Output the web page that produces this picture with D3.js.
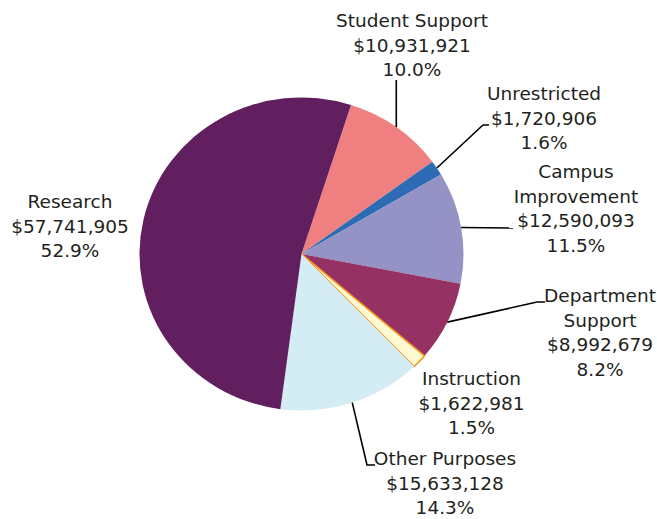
<!DOCTYPE html>
<html><head><meta charset="utf-8">
<script src="https://cdn.jsdelivr.net/npm/d3@7"></script>
<style>html,body{margin:0;padding:0;background:#fff;}svg{display:block;}</style>
</head><body>
<svg id="chart" width="657" height="519"></svg>
<script>
const categories = ["Student Support","Unrestricted","Campus Improvement","Department Support","Instruction","Other Purposes","Research"];
const amounts = [10931921,1720906,12590093,8992679,1622981,15633128,57741905];
const percentLabels = ["10.0%","1.6%","11.5%","8.2%","1.5%","14.3%","52.9%"];
const labelLines = [["Student Support"],["Unrestricted"],["Campus","Improvement"],["Department","Support"],["Instruction"],["Other Purposes"],["Research"]];
const colors = ["#f08080","#2d6cb5","#9593c6","#953163","#fdf9d0","#d4ecf3","#621f5f"];

const svg = d3.select("#chart");
const cx = 301.5, cy = 254, R = 162, yScale = 0.966;
const startDeg = 17.8;
const toRad = d => d * Math.PI / 180;

const pie = d3.pie().sort(null).value(d => d)
  .startAngle(toRad(startDeg)).endAngle(toRad(startDeg + 360));
const arcs = pie(amounts);
const arc = d3.arc().innerRadius(0).outerRadius(R);

const g = svg.append("g").attr("transform", `translate(${cx},${cy}) scale(1,${yScale})`);
g.selectAll("path").data(arcs).join("path")
  .attr("d", arc)
  .attr("fill", (d,i) => colors[i])
  .attr("stroke", (d,i) => categories[i] === "Instruction" ? "#f7941d" : "none")
  .attr("stroke-width", (d,i) => categories[i] === "Instruction" ? 1.6 : 0)
  .attr("stroke-linejoin", "miter");

// label layout: text center x, first baseline, and leader waypoints
const layout = {
  "Student Support": {x:412, y:27, pts:[[null,80]]},
  "Unrestricted": {x:544, y:100, pts:[[483,125],[489,125]]},
  "Campus Improvement": {x:576, y:178, pts:[[513,228]]},
  "Department Support": {x:600, y:302, pts:[[537,302],[545,302]]},
  "Instruction": {x:471.5, y:385, pts:null},
  "Other Purposes": {x:445, y:465, pts:[[367,465],[375,465]]},
  "Research": {x:70, y:208, pts:null}
};
const lh = 24.7;

arcs.forEach((a,i) => {
  const L = layout[categories[i]];
  const mid = (a.startAngle + a.endAngle) / 2;
  const sx = cx + R * Math.sin(mid), sy = cy - R * yScale * Math.cos(mid);
  if (L.pts) {
    const pts = [[sx,sy]].concat(L.pts.map(p => [p[0] === null ? sx : p[0], p[1]]));
    svg.append("path").attr("d", d3.line()(pts))
      .attr("fill","none").attr("stroke","#000").attr("stroke-width",1.6);
  }
  const lines = labelLines[i].concat([d3.format("$,")(amounts[i]), percentLabels[i]]);
  const t = svg.append("text").attr("text-anchor","middle")
    .attr("font-family","'DejaVu Sans', sans-serif").attr("font-size","18.5px").attr("fill","#231f20");
  lines.forEach((s,k) => t.append("tspan").attr("x", L.x).attr("y", L.y + k*lh).text(s));
});
</script>
</body></html>
